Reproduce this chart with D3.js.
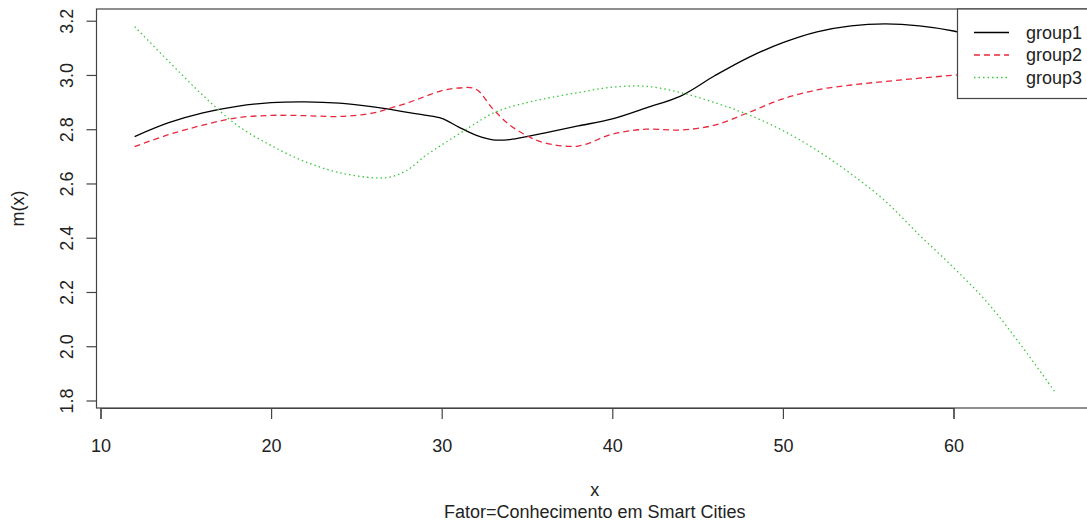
<!DOCTYPE html>
<html>
<head>
<meta charset="utf-8">
<script src="https://cdn.jsdelivr.net/npm/d3@7/dist/d3.min.js"></script>
<style>
  html, body { margin: 0; padding: 0; background: #fff; }
  svg { display: block; }
  text { font-family: "Liberation Sans", Arial, Helvetica, sans-serif; fill: #222; }
</style>
</head>
<body>
<svg id="chart" width="1087" height="527"></svg>
<script>
// ---- data ----
const xValues = [12,14,16,18,20,22,24,26,27,28,29,30,31,32,33,34,35,36,38,40,42,44,46,48,50,52,54,56,58,60,62,64,66];
const group1 = [2.773,2.824,2.860,2.884,2.898,2.901,2.896,2.882,2.873,2.862,2.852,2.840,2.808,2.778,2.761,2.762,2.773,2.786,2.812,2.838,2.879,2.922,2.997,3.065,3.119,3.159,3.181,3.188,3.181,3.162,3.130,3.090,3.040];
const group2 = [2.736,2.780,2.815,2.842,2.851,2.850,2.847,2.860,2.878,2.897,2.920,2.942,2.952,2.948,2.875,2.815,2.776,2.750,2.738,2.782,2.800,2.797,2.815,2.862,2.912,2.945,2.963,2.976,2.988,2.999,3.010,3.020,3.030];
const group3 = [3.178,3.050,2.925,2.815,2.740,2.680,2.640,2.621,2.624,2.650,2.700,2.742,2.782,2.822,2.859,2.882,2.898,2.912,2.935,2.955,2.958,2.935,2.898,2.853,2.795,2.722,2.635,2.535,2.410,2.290,2.160,2.000,1.827];
const seriesNames = ["group1","group2","group3"];
const xTicks = [10,20,30,40,50,60];
const yTicks = [1.8,2.0,2.2,2.4,2.6,2.8,3.0,3.2];
const xTitle = "x";
const subTitle = "Fator=Conhecimento em Smart Cities";
const yTitle = "m(x)";

// ---- styles ----
const colors = ["#000000", "#E8283C", "#3CC83C"];
const dashes = [null, "6,4", "1.5,3"];

const svg = d3.select("#chart");

// plot region
const box = { left: 96.5, right: 1093, top: 9, bottom: 408 };
const x = d3.scaleLinear().domain([10, 60]).range([100.5, 953.5]);
const y = d3.scaleLinear().domain([1.8, 3.2]).range([400.5, 20.7]);

const seriesData = [group1, group2, group3].map(vals => vals.map((v, i) => [xValues[i], v]));

const line = d3.line()
  .x(d => x(d[0]))
  .y(d => y(d[1]))
  .curve(d3.curveCatmullRom.alpha(0.5));

const lines = svg.append("g");
seriesData.forEach((s, i) => {
  lines.append("path")
    .datum(s)
    .attr("d", line)
    .attr("fill", "none")
    .attr("stroke", colors[i])
    .attr("stroke-width", 1.3)
    .attr("stroke-dasharray", dashes[i]);
});

// box
svg.append("rect")
  .attr("x", box.left).attr("y", box.top)
  .attr("width", box.right - box.left).attr("height", box.bottom - box.top)
  .attr("fill", "none").attr("stroke", "#444").attr("stroke-width", 1.2);

// x axis
const xAxis = d3.axisBottom(x).tickValues(xTicks).tickSize(11).tickPadding(10).tickFormat(d3.format("d"));
const gx = svg.append("g").attr("transform", `translate(0,${box.bottom})`).call(xAxis);
gx.select(".domain").attr("stroke", "#444").attr("stroke-width", 1.2);
gx.selectAll(".tick line").attr("stroke", "#444").attr("stroke-width", 1.2);
gx.selectAll(".tick text")
  .attr("font-size", 18)
  .attr("font-family", "Liberation Sans, Arial, sans-serif")
  .attr("fill", "#222")
  .attr("y", 44).attr("dy", 0);

// y axis
const yAxis = d3.axisLeft(y).tickValues(yTicks).tickSize(10).tickFormat(d3.format(".1f"));
const gy = svg.append("g").attr("transform", `translate(${box.left},0)`).call(yAxis);
gy.select(".domain").remove();
gy.selectAll(".tick line").attr("stroke", "#444").attr("stroke-width", 1.2);
gy.selectAll(".tick text")
  .attr("font-size", 18)
  .attr("font-family", "Liberation Sans, Arial, sans-serif")
  .attr("fill", "#222")
  .attr("x", null).attr("dy", null)
  .attr("text-anchor", "middle")
  .attr("transform", "translate(-24,0) rotate(-90)");

// titles
const cx = (box.left + box.right) / 2;
svg.append("text").attr("x", cx).attr("y", 496).attr("text-anchor", "middle")
  .attr("font-size", 18).text(xTitle);
svg.append("text").attr("x", cx).attr("y", 518).attr("text-anchor", "middle")
  .attr("font-size", 18).text(subTitle);
svg.append("text").attr("transform", `translate(24,${(box.top + box.bottom) / 2}) rotate(-90)`)
  .attr("text-anchor", "middle").attr("font-size", 18).text(yTitle);

// legend
const lg = svg.append("g");
lg.append("rect").attr("x", 957.5).attr("y", box.top).attr("width", 140).attr("height", 89.5)
  .attr("fill", "#fff").attr("stroke", "#444").attr("stroke-width", 1.2);
const rowY = [32.5, 55, 77.5];
seriesNames.forEach((name, i) => {
  lg.append("line").attr("x1", 974).attr("x2", 1009).attr("y1", rowY[i]).attr("y2", rowY[i])
    .attr("stroke", colors[i]).attr("stroke-width", 1.3).attr("stroke-dasharray", dashes[i]);
  lg.append("text").attr("x", 1026).attr("y", rowY[i]).attr("dy", "0.35em")
    .attr("font-size", 18).text(name);
});
</script>
</body>
</html>
